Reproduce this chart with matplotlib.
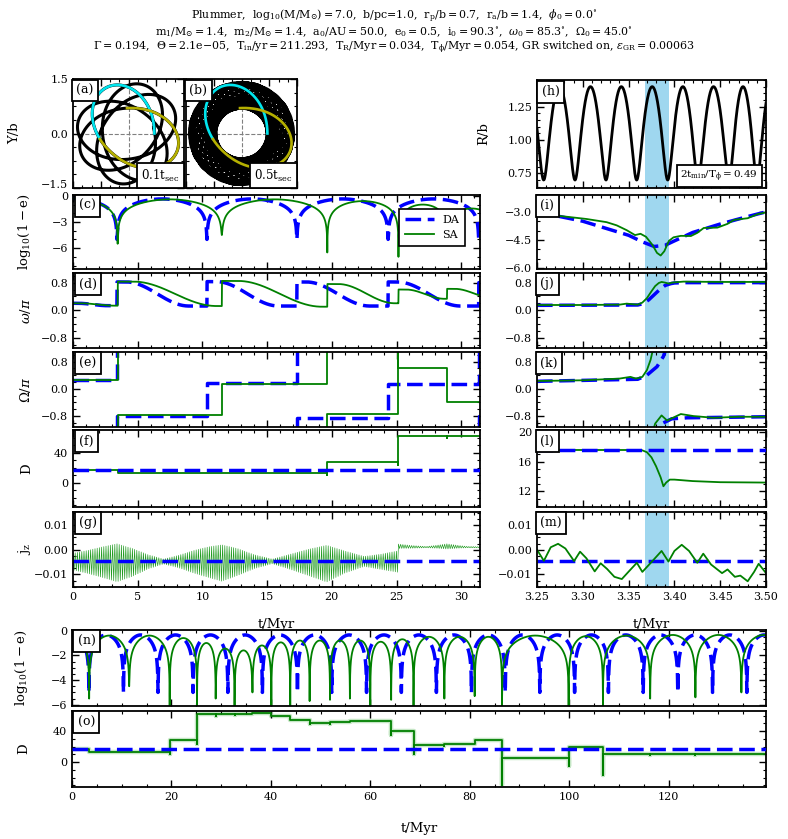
import numpy as np
import matplotlib
matplotlib.use("Agg")
import matplotlib.pyplot as plt
import matplotlib.transforms as mtransforms
from matplotlib.ticker import MultipleLocator, NullFormatter

plt.rcParams["font.family"] = ["DejaVu Serif"]
plt.rcParams["mathtext.fontset"] = "dejavuserif"

W, H = 788, 839

# ---------------- values ----------------
# outer orbit (from the header)
r_peri, r_apo = 0.7, 1.4
T_R, T_phi = 0.034, 0.054
n_rad_a, n_rad_b = 8, 40            # radial periods drawn in (a) and (b)

# (h): pericentre passages inside the zoom window, highlighted interval
h_peri_t = [3.2573, 3.2915, 3.3253, 3.3588, 3.3927, 3.4258, 3.4596, 3.4902]
band_t = [3.3675, 3.3945]

# eccentricity maxima: time, depth of log10(1-e), and arc tops in between
da_dip_t = [3.4, 10.35, 17.3, 24.35, 31.35, 38.3, 45.35, 52.25, 59.25, 66.25,
            73.3, 80.35, 87.15, 94.1, 101.1, 107.9, 114.9, 121.85, 128.85, 135.75]
da_dip_y = [-5.0] * len(da_dip_t)
da_top_y = [-0.3] + [-0.35] * len(da_dip_t)

sa_dip_t = [3.45, 11.5, 19.65, 25.15, 28.9, 32.7, 36.3, 40.1, 43.9, 47.8, 51.9,
            55.9, 60.0, 64.2, 68.7, 74.9, 81.0, 86.5, 99.9, 106.8, 116.3, 125.4, 134.65]
sa_dip_y = [-5.5, -4.5, -6.5, -7.0, -5.5, -6.5, -5.0, -6.5, -6.4, -5.7, -5.6,
            -5.5, -6.4, -5.6, -6.5, -5.5, -5.3, -6.5, -6.5, -6.5, -5.5, -5.4, -5.0]
sa_top_y = [-0.3, -0.4, -0.4, -0.6, -1.0, -1.45, -1.6, -1.2, -0.95, -0.8, -0.8,
            -0.8, -0.8, -0.9, -0.7, -0.5, -0.5, -0.5, -0.4, -0.45, -0.4, -0.35, -0.35, -0.35]

# omega / pi: segment start times, value after the jump, value before next jump
sa_w_t = [0.0, 3.45, 11.5, 19.65, 25.15, 28.9, 32.7]
sa_w_hi = [0.2, 0.83, 0.85, 0.76, 0.6, 0.62]
sa_w_lo = [0.13, 0.12, 0.1, 0.2, 0.33, 0.35]
da_w_t = [0.0, 3.4, 10.35, 17.3, 24.35, 31.35, 38.3]
da_w_hi = [0.2, 0.82, 0.83, 0.82, 0.82, 0.8]
da_w_lo = [0.13, 0.12, 0.12, 0.12, 0.12, 0.12]

# Omega / pi: plateau levels and jumps
sa_W_levels = [0.25, -0.78, 0.15, -0.75, 0.6, -0.38]
sa_W_steps = [3.45, 11.5, 19.65, 25.15, 28.9]
sa_W_kinds = ["wrap", "step", "wrap", "spike", "step"]
da_W_levels = [0.25, -0.8, 0.18, -0.85, 0.15, -0.8]
da_W_steps = [3.4, 10.35, 17.3, 24.35, 31.35]
da_W_kinds = ["wrap", "step", "wrap", "step", "wrap"]

# D: DA constant, SA steps (time, new level, lowest point of the jump)
D0 = 17.6
sa_D_t = [3.45, 19.65, 25.15, 28.9, 32.7, 36.3, 40.1, 43.9, 47.8, 51.9, 55.9,
          60.0, 64.2, 68.7, 74.9, 81.0, 86.5, 99.9, 106.8, 116.3, 125.4]
sa_D_val = [13.3, 28.0, 62.0, 61.5, 62.3, 63.0, 60.0, 55.0, 50.0, 51.5, 52.5,
            53.0, 40.0, 22.0, 24.0, 28.0, 5.3, 19.5, 10.0, 11.0, 10.0]
sa_D_low = [12.5, 11.0, 23.0, 60.0, 61.0, 62.0, 59.0, 54.0, 49.0, 49.5, 51.5,
            52.5, 35.0, 11.0, 21.5, 23.5, -29.0, -5.0, -17.0, 9.5, 9.5]

# j_z: DA constant, SA envelope of the fast oscillation
da_jz = -0.0046
g_env_t = [0, 1.2, 2.3, 3.4, 4.6, 5.8, 7.0, 8.2, 9.4, 10.5, 11.5, 12.7, 14.0,
           15.4, 16.8, 18.2, 19.6, 21.0, 22.5, 23.8, 25.15]
g_env_hi = [-0.0014, -0.0002, 0.0012, 0.0024, 0.0005, -0.002, -0.0038, -0.0022,
            -0.0002, 0.0012, 0.002, 0.0005, -0.002, -0.0038, -0.0018, 0.0002,
            0.0018, -0.0005, -0.0027, -0.0018, -0.0004]
g_env_lo = [-0.0082, -0.0097, -0.0113, -0.0130, -0.0108, -0.0078, -0.0058, -0.0074,
            -0.0096, -0.0113, -0.0128, -0.0105, -0.0077, -0.0057, -0.0080, -0.0105,
            -0.0131, -0.0095, -0.0068, -0.0080, -0.0092]
g2_env_t = [25.15, 26.2, 27.3, 28.1, 28.9, 29.7, 30.5, 31.6]
g2_env_hi = [0.0023, 0.0017, 0.0013, 0.0018, 0.0024, 0.0018, 0.0013, 0.0012]
g2_env_lo = [0.0005, 0.0006, 0.0008, 0.0006, 0.0003, 0.0006, 0.0008, 0.0008]

# right column (zoom on 3.25-3.50 Myr)
i_sa_t = [3.25, 3.26, 3.271, 3.286, 3.304, 3.326, 3.337, 3.348, 3.357, 3.363, 3.369,
          3.376, 3.381, 3.385, 3.389, 3.394, 3.399, 3.407, 3.418, 3.425, 3.432,
          3.447, 3.458, 3.465, 3.48, 3.491, 3.5]
i_sa = [-2.9, -3.07, -3.2, -3.28, -3.38, -3.55, -3.72, -3.98, -4.24, -4.17, -4.33,
        -4.76, -5.19, -5.33, -5.1, -4.55, -4.36, -4.28, -4.29, -4.12, -3.86,
        -3.84, -3.64, -3.43, -3.34, -3.12, -3.03]
i_da_t = [3.25, 3.30, 3.35, 3.365, 3.378, 3.39, 3.40, 3.42, 3.45, 3.48, 3.50]
i_da = [-3.0, -3.5, -4.25, -4.6, -4.85, -4.78, -4.55, -4.1, -3.65, -3.25, -3.0]

j_sa_t = [3.25, 3.30, 3.34, 3.348, 3.355, 3.36, 3.365, 3.37, 3.375, 3.379, 3.383,
          3.386, 3.39, 3.394, 3.397, 3.41, 3.45, 3.5]
j_sa = [0.15, 0.15, 0.16, 0.19, 0.17, 0.16, 0.22, 0.35, 0.55, 0.7, 0.79,
        0.82, 0.8, 0.77, 0.8, 0.83, 0.82, 0.82]
j_da_t = [3.25, 3.36, 3.366, 3.372, 3.378, 3.384, 3.39, 3.396, 3.40, 3.41, 3.5]
j_da = [0.14, 0.15, 0.19, 0.3, 0.45, 0.6, 0.72, 0.77, 0.79, 0.8, 0.8]

k_sa_t = [3.25, 3.30, 3.34, 3.352, 3.358, 3.365, 3.37, 3.374, 3.377, np.nan,
          3.377, 3.379, 3.386, 3.392, 3.407, 3.421, 3.443, 3.47, 3.5]
k_sa = [0.23, 0.25, 0.3, 0.35, 0.3, 0.35, 0.55, 0.85, 1.2, np.nan,
        -1.2, -1.02, -0.78, -0.93, -0.74, -0.8, -0.85, -0.82, -0.82]
k_da_t = [3.25, 3.36, 3.37, 3.381, 3.388, 3.391, np.nan, 3.388, 3.397, 3.414, 3.5]
k_da = [0.22, 0.28, 0.4, 0.65, 0.95, 1.2, np.nan, -1.0, -0.88, -0.85, -0.82]

l_sa_t = [3.25, 3.35, 3.357, 3.364, 3.37, 3.375, 3.38, 3.385, 3.388, 3.391, 3.395,
          3.40, 3.42, 3.45, 3.5]
l_sa = [17.6, 17.6, 17.45, 17.6, 17.3, 16.6, 15.4, 13.9, 12.7, 13.2, 13.6,
        13.6, 13.4, 13.25, 13.2]

m_sa_t = [3.25, 3.2575, 3.265, 3.273, 3.281, 3.2905, 3.297, 3.304, 3.313, 3.3195,
          3.3265, 3.3345, 3.3426, 3.351, 3.359, 3.365, 3.375, 3.386, 3.3935, 3.400,
          3.408, 3.416, 3.425, 3.4315, 3.44, 3.452, 3.458, 3.466, 3.472, 3.48,
          3.487, 3.492, 3.5]
m_sa = [0.0, -0.0045, 0.0010, 0.0024, 0.0005, -0.0046, -0.0008, -0.0035, -0.0088, -0.0055,
        -0.0078, -0.0110, -0.0119, -0.0085, -0.0053, -0.0090, -0.0050, -0.0005, -0.0048, -0.0005,
        0.0020, -0.0005, -0.0053, -0.0016, -0.0060, -0.0095, -0.0080, -0.0110, -0.0105, -0.0128,
        -0.0090, -0.0057, -0.0095]

GREEN = "#008000"
BLUE = "#0000ff"
BAND = "#87ceeb"
DASH = (4.5, 1.9)


# ---------------- helpers ----------------
def px_axes(fig, x0, y0, x1, y1):
    return fig.add_axes([x0 / W, 1 - y1 / H, (x1 - x0) / W, (y1 - y0) / H])


def style(ax, xmaj, xmin, ymaj, ymin):
    ax.xaxis.set_major_locator(MultipleLocator(xmaj))
    ax.xaxis.set_minor_locator(MultipleLocator(xmin))
    ax.yaxis.set_major_locator(MultipleLocator(ymaj))
    ax.yaxis.set_minor_locator(MultipleLocator(ymin))
    ax.tick_params(which="both", direction="in", top=True, right=True, labelsize=8)
    ax.tick_params(which="major", length=5, width=1)
    ax.tick_params(which="minor", length=2.5, width=0.8)
    for s in ax.spines.values():
        s.set_linewidth(1.3)


def tag(ax, s, x=0.015, y=0.94, ha="left", va="top", size=9):
    ax.text(x, y, s, transform=ax.transAxes, ha=ha, va=va, fontsize=size, zorder=10,
            bbox=dict(boxstyle="square,pad=0.35", fc="white", ec="black", lw=1.3))


def kozai_curve(t, dip_t, dip_y, top_y, t_before, t_after):
    dt = np.array([t_before] + list(dip_t) + [t_after])
    dy = np.array([-5.0] + list(dip_y) + [-5.0])
    jd = 1 - (1 - 10 ** dy) ** 2
    jt = 1 - (1 - 10 ** np.array(top_y)) ** 2
    k = np.clip(np.searchsorted(dt, t, side="right") - 1, 0, len(dt) - 2)
    p = (t - dt[k]) / (dt[k + 1] - dt[k])
    j2 = (jt[k] * np.sin(np.pi * p) ** 2 + jd[k] * np.cos(np.pi * p / 2) ** 2
          + jd[k + 1] * np.sin(np.pi * p / 2) ** 2)
    e = np.sqrt(np.clip(1 - j2, 0, 1))
    return np.log10(1 - e)


def omega_curve(t, seg_t, hi, lo, p0, p1):
    seg_t = np.asarray(seg_t)
    hi, lo = np.asarray(hi), np.asarray(lo)
    k = np.clip(np.searchsorted(seg_t, t, side="right") - 1, 0, len(seg_t) - 2)
    p = (t - seg_t[k]) / (seg_t[k + 1] - seg_t[k])
    s = np.clip((p - p0) / (p1 - p0), 0, 1)
    return lo[k] + (hi[k] - lo[k]) * 0.5 * (1 + np.cos(np.pi * s))


def node_series(levels, steps, kinds, t_end):
    ts, vs = [0.0], [levels[0]]
    for k, (s, kind) in enumerate(zip(steps, kinds)):
        ts.append(s)
        vs.append(levels[k])
        if kind == "wrap":
            ts += [s, np.nan, s]
            vs += [1.2, np.nan, -1.2]
        elif kind == "spike":
            ts.append(s)
            vs.append(1.2)
        ts.append(s)
        vs.append(levels[k + 1])
    ts.append(t_end)
    vs.append(levels[-1])
    return ts, vs


def step_series(v0, steps, vals, lows, t_end):
    ts, vs = [0.0], [v0]
    prev = v0
    for s, v, m in zip(steps, vals, lows):
        ts += [s, s, s]
        vs += [prev, m, v]
        prev = v
    ts.append(t_end)
    vs.append(prev)
    return ts, vs


def kepler_radius(mean_anom, rp, ra):
    a = 0.5 * (rp + ra)
    ecc = (ra - rp) / (ra + rp)
    E = mean_anom.copy()
    for _ in range(40):
        E = mean_anom + ecc * np.sin(E)
    return a * (1 - ecc * np.cos(E))


def radial_profile(t, peri_t, rp, ra):
    peri = np.asarray(peri_t)
    peri = np.concatenate([[2 * peri[0] - peri[1]], peri, [2 * peri[-1] - peri[-2]]])
    k = np.clip(np.searchsorted(peri, t, side="right") - 1, 0, len(peri) - 2)
    M = 2 * np.pi * (t - peri[k]) / (peri[k + 1] - peri[k])
    return kepler_radius(M, rp, ra)


def rosette(n_rad, rp, ra, n_per=500):
    M = np.linspace(0, 2 * np.pi * n_rad, n_rad * n_per + 1)
    r = kepler_radius(M, rp, ra)
    w = 1 / r ** 2
    phi = np.concatenate([[0], np.cumsum(0.5 * (w[1:] + w[:-1]) * np.diff(M))])
    phi *= (2 * np.pi * T_R / T_phi) / phi[n_per]
    return r * np.cos(phi), r * np.sin(phi), n_per


def zigzag(env_t, env_hi, env_lo, t0, t1, step=0.085):
    tz = np.arange(t0, t1, step)
    hi = np.interp(tz, env_t, env_hi)
    lo = np.interp(tz, env_t, env_lo)
    return tz, np.where(np.arange(len(tz)) % 2 == 0, hi, lo)


# ---------------- figure ----------------
fig = plt.figure(figsize=(W / 100, H / 100), dpi=100)

L1 = (r"Plummer,  $\mathrm{log_{10}(M/M_{\odot}) = 7.0}$,  b/pc=1.0,  "
      r"$\mathrm{r_p/b = 0.7}$,  $\mathrm{r_a/b = 1.4}$,  $\phi_0 = 0.0^{\circ}$")
L2 = (r"$\mathrm{m_1/M_{\odot} = 1.4}$,  $\mathrm{m_2/M_{\odot} = 1.4}$,  "
      r"$\mathrm{a_0/AU = 50.0}$,  $\mathrm{e_0 = 0.5}$,  $\mathrm{i_0 = 90.3^{\circ}}$,  "
      r"$\omega_0 = 85.3^{\circ}$,  $\Omega_0 = 45.0^{\circ}$")
L3 = (r"$\Gamma = 0.194$,  $\Theta = 2.1\mathrm{e{-}05}$,  $\mathrm{T_{in}/yr = 211.293}$,  "
      r"$\mathrm{T_R/Myr = 0.034}$,  $\mathrm{T_{\phi}/Myr = 0.054}$, GR switched on, "
      r"$\varepsilon_{\rm GR} = 0.00063$")
for yy, s in zip([16, 32, 48], [L1, L2, L3]):
    fig.text(0.5, 1 - yy / H, s, ha="center", va="center", fontsize=7.9)

# --- (a), (b): orbit in the cluster plane
for (x0, x1, n_rad, lab, box, show_y, lw) in [
        (73, 184, n_rad_a, "(a)", r"$\mathrm{0.1t_{sec}}$", True, 2.2),
        (186, 297, n_rad_b, "(b)", r"$\mathrm{0.5t_{sec}}$", False, 2.5)]:
    ax = px_axes(fig, x0, 79, x1, 188)
    X, Y, n_per = rosette(n_rad, r_peri, r_apo)
    ax.axhline(0, color="gray", ls="--", lw=0.8, zorder=0.5)
    ax.axvline(0, color="gray", ls="--", lw=0.8, zorder=0.5)
    ax.plot(X, Y, color="black", lw=lw, zorder=1)
    cut = int(0.92 * n_per)
    ax.plot(X[:cut], Y[:cut], color="#00e5ee", lw=1.9, zorder=2)
    ax.plot(X[cut:2 * n_per + 1], Y[cut:2 * n_per + 1], color="#b5b000", lw=1.9, zorder=2)
    ax.set_xlim(-1.5, 1.5)
    ax.set_ylim(-1.5, 1.5)
    style(ax, 0.75, 0.25, 1.5, 0.375)
    ax.xaxis.set_major_formatter(NullFormatter())
    if show_y:
        ax.set_yticks([-1.5, 0.0, 1.5])
        ax.set_yticklabels(["\u22121.5", "0.0", "1.5"])
        lift = mtransforms.ScaledTranslation(0, 3 / 72, fig.dpi_scale_trans)
        lbl = ax.get_yticklabels()[0]
        lbl.set_transform(lbl.get_transform() + lift)
        ax.set_ylabel("Y/b", fontsize=9.5)
        ax.yaxis.set_label_coords(-0.47, 0.5)
    else:
        ax.yaxis.set_major_formatter(NullFormatter())
    tag(ax, lab, x=0.03, y=0.955)
    tag(ax, box, x=0.965, y=0.04, ha="right", va="bottom", size=8.5)

# --- left column: first 31.5 Myr
XL = (0, 31.45)
rows = [(195, 269), (273, 348), (352, 427), (430, 507), (512, 586.7)]
left = [px_axes(fig, 73, y0, 480, y1) for (y0, y1) in rows]
right = [px_axes(fig, 537, y0, 766, y1) for (y0, y1) in rows]

t_full = np.sort(np.concatenate([np.linspace(0, 140, 60000), da_dip_t, sa_dip_t]))
da_loge = kozai_curve(t_full, da_dip_t, da_dip_y, da_top_y, -3.55, 142.7)
sa_loge = kozai_curve(t_full, sa_dip_t, sa_dip_y, sa_top_y, -4.0, 143.6)

ax = left[0]
ax.plot(t_full, da_loge, color=BLUE, lw=2.5, dashes=DASH, label="DA")
ax.plot(t_full, sa_loge, color=GREEN, lw=1.3, label="SA")
ax.set_ylim(-8.4, 0.1)
style(ax, 5, 1, 3, 1)
ax.set_ylabel(r"$\mathrm{log_{10}(1-e)}$", fontsize=9.5)
leg = ax.legend(loc="upper right", bbox_to_anchor=(0.978, 0.89), fontsize=8,
                handlelength=2.6, fancybox=False, edgecolor="black", framealpha=1,
                borderpad=0.55)
leg.get_frame().set_linewidth(1.2)
tag(ax, "(c)")

t_w = np.linspace(0, 32, 4000)
ax = left[1]
ax.plot(t_w, omega_curve(t_w, da_w_t, da_w_hi, da_w_lo, 0.1, 0.8), color=BLUE, lw=2.5, dashes=DASH)
ax.plot(t_w, omega_curve(t_w, sa_w_t, sa_w_hi, sa_w_lo, 0.15, 0.95), color=GREEN, lw=1.3)
ax.set_ylim(-1.1, 1.08)
style(ax, 5, 1, 0.8, 0.2)
ax.set_ylabel(r"$\omega/\pi$", fontsize=9.5)
tag(ax, "(d)")

ax = left[2]
ts, vs = node_series(da_W_levels, da_W_steps, da_W_kinds, 32)
ax.plot(ts, vs, color=BLUE, lw=2.5, dashes=DASH)
ts, vs = node_series(sa_W_levels, sa_W_steps, sa_W_kinds, 32)
ax.plot(ts, vs, color=GREEN, lw=1.3)
ax.set_ylim(-1.12, 1.08)
style(ax, 5, 1, 0.8, 0.2)
ax.set_ylabel(r"$\Omega/\pi$", fontsize=9.5)
tag(ax, "(e)")

ax = left[3]
ax.axhline(D0, color=BLUE, lw=2.5, dashes=DASH, zorder=3)
ts, vs = step_series(D0, sa_D_t, sa_D_val, sa_D_low, 140)
ax.plot(ts, vs, color=GREEN, lw=1.3, zorder=2)
ax.set_ylim(-32, 70)
style(ax, 5, 1, 40, 10)
ax.set_ylabel("D", fontsize=9.5)
tag(ax, "(f)")

ax = left[4]
tz1, z1 = zigzag(g_env_t, g_env_hi, g_env_lo, 0, 25.15)
tz2, z2 = zigzag(g2_env_t, g2_env_hi, g2_env_lo, 25.15, 31.6)
ax.plot(np.concatenate([tz1, tz2]), np.concatenate([z1, z2]), color="#1f9a1f", lw=0.45)
ax.axhline(da_jz, color=BLUE, lw=2.5, dashes=DASH)
ax.set_ylim(-0.015, 0.0153)
style(ax, 5, 1, 0.01, 0.0025)
ax.set_yticks([-0.01, 0.0, 0.01])
ax.set_yticklabels(["\u22120.01", "0.00", "0.01"])
ax.set_ylabel(r"$\mathrm{j_z}$", fontsize=9.5)
ax.set_xlabel("t/Myr", fontsize=9.5)
ax.xaxis.set_label_coords(0.5, -0.42)
tag(ax, "(g)")

for ax in left:
    ax.set_xlim(*XL)
    ax.yaxis.set_label_coords(-0.098, 0.5)
for ax in left[:-1]:
    ax.xaxis.set_major_formatter(NullFormatter())

# --- right column: zoom 3.25 - 3.50 Myr
XR = (3.25, 3.50)
ax_h = px_axes(fig, 537, 80, 766, 188)
t_h = np.linspace(3.25, 3.5, 3000)
ax_h.plot(t_h, radial_profile(t_h, h_peri_t, r_peri, r_apo), color="black", lw=2)
ax_h.set_ylim(0.64, 1.45)
style(ax_h, 0.05, 0.01, 0.25, 0.05)
ax_h.set_ylabel("R/b", fontsize=9.5)
ax_h.yaxis.set_label_coords(-0.205, 0.5)
tag(ax_h, "(h)", x=0.02, y=0.95)
tag(ax_h, r"$\mathrm{2t_{min}/T_{\phi} = 0.49}$", x=0.965, y=0.04, ha="right",
    va="bottom", size=7.5)

ax = right[0]
ax.plot(i_da_t, i_da, color=BLUE, lw=2.5, dashes=DASH)
ax.plot(i_sa_t, i_sa, color=GREEN, lw=1.3)
ax.set_ylim(-6.05, -2.1)
style(ax, 0.05, 0.01, 1.5, 0.5)
tag(ax, "(i)")

ax = right[1]
ax.plot(j_da_t, j_da, color=BLUE, lw=2.5, dashes=DASH)
ax.plot(j_sa_t, j_sa, color=GREEN, lw=1.3)
ax.set_ylim(-1.1, 1.08)
style(ax, 0.05, 0.01, 0.8, 0.2)
tag(ax, "(j)")

ax = right[2]
ax.plot(k_da_t, k_da, color=BLUE, lw=2.5, dashes=DASH)
ax.plot(k_sa_t, k_sa, color=GREEN, lw=1.3)
ax.set_ylim(-1.12, 1.08)
style(ax, 0.05, 0.01, 0.8, 0.2)
tag(ax, "(k)")

ax = right[3]
ax.axhline(D0, color=BLUE, lw=2.5, dashes=DASH, zorder=3)
ax.plot(l_sa_t, l_sa, color=GREEN, lw=1.3, zorder=2)
ax.set_ylim(9.9, 20.3)
style(ax, 0.05, 0.01, 4, 1)
tag(ax, "(l)")

ax = right[4]
ax.axhline(da_jz, color=BLUE, lw=2.5, dashes=DASH)
ax.plot(m_sa_t, m_sa, color=GREEN, lw=1.3)
ax.set_ylim(-0.015, 0.0153)
style(ax, 0.05, 0.01, 0.01, 0.0025)
ax.set_yticks([-0.01, 0.0, 0.01])
ax.set_yticklabels(["\u22120.01", "0.00", "0.01"])
ax.set_xlabel("t/Myr", fontsize=9.5)
ax.xaxis.set_label_coords(0.5, -0.42)
ax.set_xticks([3.25, 3.30, 3.35, 3.40, 3.45, 3.50])
ax.set_xticklabels(["3.25", "3.30", "3.35", "3.40", "3.45", "3.50"])
tag(ax, "(m)")

for ax in [ax_h] + right:
    ax.set_xlim(*XR)
    ax.axvspan(band_t[0], band_t[1], color=BAND, alpha=0.8, lw=0, zorder=0)
for ax in [ax_h] + right[:-1]:
    ax.xaxis.set_major_formatter(NullFormatter())

# --- bottom: whole run
XB = (0, 139.6)
ax_n = px_axes(fig, 72, 630, 766, 706)
ax_n.plot(t_full, da_loge, color=BLUE, lw=2.5, dashes=DASH)
ax_n.plot(t_full, sa_loge, color=GREEN, lw=1.3)
ax_n.set_ylim(-6.1, 0.05)
style(ax_n, 20, 5, 2, 0.5)
ax_n.set_yticks([-6, -4, -2, 0])
ax_n.set_yticklabels(["\u22126", "\u22124", "\u22122", "0"])
ax_n.xaxis.set_major_formatter(NullFormatter())
ax_n.set_ylabel(r"$\mathrm{log_{10}(1-e)}$", fontsize=9.5)
tag(ax_n, "(n)", x=0.008)

ax_o = px_axes(fig, 72, 711, 766, 787)
ts, vs = step_series(D0, sa_D_t, sa_D_val, sa_D_low, 140)
ax_o.plot(ts, vs, color="#7fc97f", lw=3.2, alpha=0.45, zorder=1)
ax_o.plot(ts, vs, color=GREEN, lw=1.3, zorder=2)
ax_o.axhline(D0, color=BLUE, lw=2.5, dashes=DASH, zorder=3)
ax_o.set_ylim(-32, 66)
style(ax_o, 20, 5, 40, 10)
ax_o.set_ylabel("D", fontsize=9.5)
ax_o.set_xlabel("t/Myr", fontsize=9.5)
ax_o.xaxis.set_label_coords(0.5, -0.46)
tag(ax_o, "(o)", x=0.008)

for ax in (ax_n, ax_o):
    ax.set_xlim(*XB)
    ax.yaxis.set_label_coords(-0.06, 0.5)

fig.savefig("out.png", dpi=100)
